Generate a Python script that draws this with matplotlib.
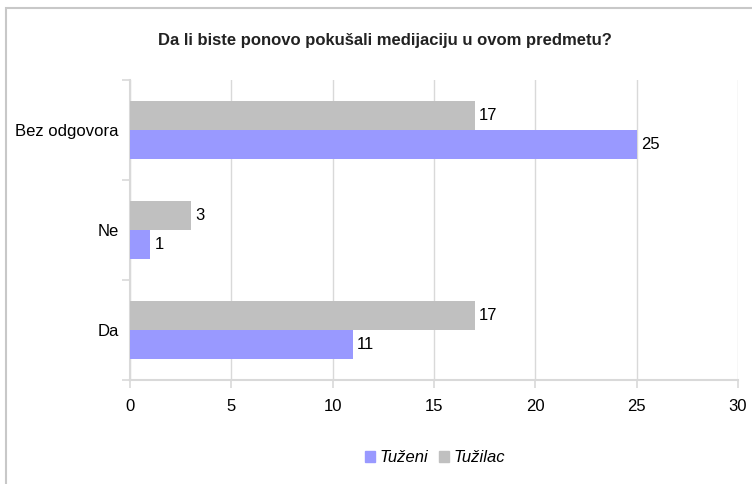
import matplotlib
matplotlib.use("Agg")
import matplotlib.pyplot as plt
from matplotlib.patches import Rectangle, Patch
import numpy as np

plt.rcParams['font.family'] = ['Liberation Sans', 'DejaVu Sans']

# podaci
categories = ['Da', 'Ne', 'Bez odgovora']
tuzeni = [11, 1, 25]
tuzilac = [17, 3, 17]
x_ticks = [0, 5, 10, 15, 20, 25, 30]

blue = '#9999FF'
gray = '#C0C0C0'
grid_c = '#D9D9D9'

fig = plt.figure(figsize=(7.52, 4.84), dpi=100)
ax = fig.add_axes([130 / 752, 1 - 380 / 484, 608 / 752, 300 / 484])

# okvir oko cijelog grafikona
fig.patches.append(Rectangle((6 / 752, -0.01), 1.0, 1 - 8 / 484 + 0.01,
                             transform=fig.transFigure, fill=False,
                             edgecolor='#C8C8C8', linewidth=1.5))

y = np.arange(len(categories))
h = 0.29
ax.barh(y - h / 2, tuzeni, height=h, color=blue, label='Tuženi', zorder=3)
ax.barh(y + h / 2, tuzilac, height=h, color=gray, label='Tužilac', zorder=3)

for yi, v in zip(y, tuzeni):
    ax.text(v + 0.2, yi - h / 2, str(v), va='center', ha='left', fontsize=12)
for yi, v in zip(y, tuzilac):
    ax.text(v + 0.2, yi + h / 2, str(v), va='center', ha='left', fontsize=12)

ax.set_xlim(0, 30)
ax.set_ylim(-0.5, 2.5)
ax.set_xticks(x_ticks)
ax.set_xticklabels([str(t) for t in x_ticks], fontsize=12)
ax.set_yticks(y)
ax.set_yticklabels(categories, fontsize=12)
ax.set_yticks([-0.5, 0.5, 1.5, 2.5], minor=True)

ax.xaxis.grid(True, color=grid_c, linewidth=1, zorder=0)
for s in ['top', 'right']:
    ax.spines[s].set_visible(False)
for s in ['left', 'bottom']:
    ax.spines[s].set_color(grid_c)
    ax.spines[s].set_linewidth(1.5)

ax.tick_params(axis='y', which='major', length=0, pad=8)
ax.tick_params(axis='y', which='minor', length=6, color=grid_c, width=1.2)
ax.tick_params(axis='x', length=6, color=grid_c, width=1.2, pad=8)

fig.text(385 / 752, 1 - 40 / 484, 'Da li biste ponovo pokušali medijaciju u ovom predmetu?',
         ha='center', va='center', fontsize=12, fontweight='bold', color='#222222')

leg = fig.legend(handles=[Patch(color=blue, label='Tuženi'), Patch(color=gray, label='Tužilac')],
                 loc='center', bbox_to_anchor=(435 / 752, 1 - 458 / 484), ncol=2,
                 frameon=False, prop={'style': 'italic', 'size': 12},
                 handlelength=0.6, handleheight=0.6, handletextpad=0.3, columnspacing=0.6)

fig.savefig('out.png', dpi=100)
